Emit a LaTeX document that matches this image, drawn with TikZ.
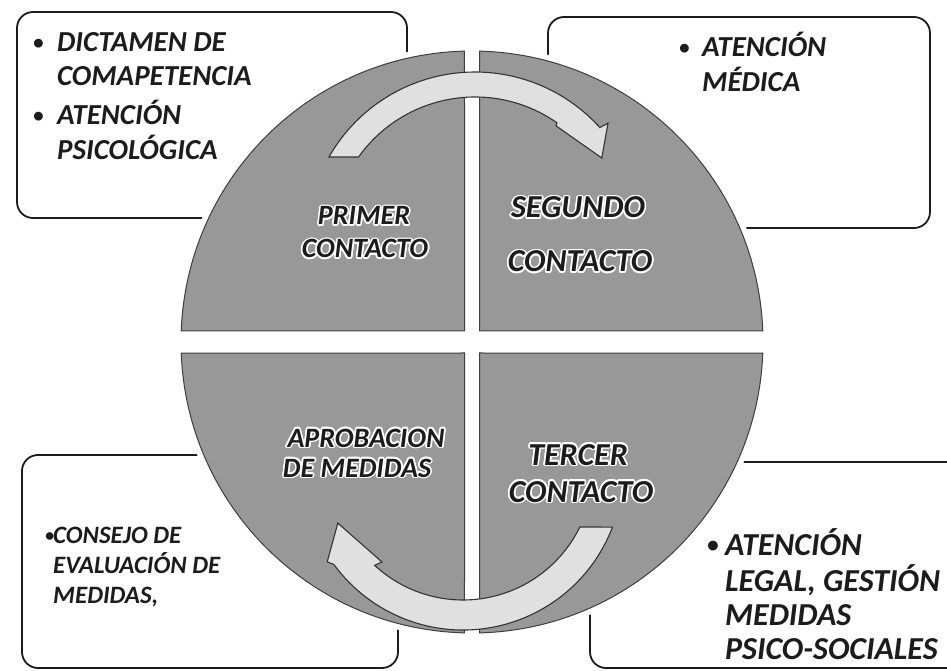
\documentclass[tikz,border=0pt]{standalone}
\usepackage{fontspec}
\usepackage{graphicx}
\setmainfont{Carlito}
\usetikzlibrary{calc}
\definecolor{disc}{RGB}{152,152,152}
\definecolor{arrowfill}{RGB}{224,224,224}
\definecolor{ink}{RGB}{28,28,28}
\tikzset{
  infobox/.style={draw=ink, line width=1.8pt, rounded corners=16pt, fill=white},
  quad/.style={fill=disc, draw=ink!85, line width=1pt},
  arrowshape/.style={fill=arrowfill, draw=ink!90, line width=1.1pt, line join=miter},
  boxtext/.style={anchor=base west, inner sep=0pt, text=ink},
  lbl/.style={anchor=base, inner sep=0pt, text=ink},
}
\newcommand\bul[1]{\makebox[#1][l]{\raisebox{0.08em}{\scalebox{0.72}{\textbullet}}}}
% name, x, y, size, text  (white halo from offset copies)
\newcommand\halolabel[5]{%
  \foreach \a in {0,30,...,330}{%
    \node[lbl, text=white, font=\fontsize{#4}{#4}\selectfont\bfseries\itshape]
      (#1h\a) at ($(#2,#3)+(\a:1.7pt)$) {#5};}
  \node[lbl, font=\fontsize{#4}{#4}\selectfont\bfseries\itshape] (#1) at (#2,#3) {#5};
}
\begin{document}
\begin{tikzpicture}[x=1pt,y=1pt]
\useasboundingbox (0,0) rectangle (947,670);
\clip (0,0) rectangle (947,670);
\fill[white] (0,0) rectangle (947,670);

% info boxes
\draw[infobox] (17,452) rectangle (407,658);
\draw[infobox] (548,442) rectangle (930,653);
\draw[infobox] (22,2) rectangle (398,215);
\draw[infobox] (590,2) rectangle (975,208);

% box texts
\node[boxtext, font=\fontsize{29}{34}\selectfont\bfseries\itshape] (tltext) at (33,618)
 {\begin{tabular}[t]{@{}l@{}}\bul{24pt}DICTAMEN DE\\\hspace*{24pt}COMAPETENCIA\\[4pt]
  \bul{24pt}ATENCIÓN\\\hspace*{24pt}PSICOLÓGICA\end{tabular}};
\node[boxtext, font=\fontsize{29}{33}\selectfont\bfseries\itshape] (trtext) at (679,613)
 {\begin{tabular}[t]{@{}l@{}}\bul{23pt}ATENCIÓN\\\hspace*{23pt}MÉDICA\end{tabular}};
\node[boxtext, font=\fontsize{25}{30}\selectfont\bfseries\itshape] (bltext) at (45,127)
 {\begin{tabular}[t]{@{}l@{}}\bul{8pt}CONSEJO DE\\\hspace*{8pt}EVALUACIÓN DE\\\hspace*{8pt}MEDIDAS,\end{tabular}};
\node[boxtext, font=\fontsize{32}{33.7}\selectfont\bfseries\itshape] (brtext) at (707,115)
 {\begin{tabular}[t]{@{}l@{}}\bul{18pt}ATENCIÓN\\\hspace*{18pt}LEGAL, GESTIÓN\\\hspace*{18pt}MEDIDAS\\\hspace*{18pt}PSICO-SOCIALES\end{tabular}};

% disc
\coordinate (C) at (472,328);
\fill[white] (C) circle[radius=297pt];
\draw[quad] (464.5,339) -- ($(C)+(91.48:291pt)$) arc[start angle=91.48, end angle=177.83, radius=291pt] -- cycle;
\draw[quad] (479.5,339) -- ($(C)+(2.17:291pt)$) arc[start angle=2.17, end angle=88.52, radius=291pt] -- cycle;
\draw[quad] (464.5,317) -- ($(C)+(182.17:291pt)$) arc[start angle=182.17, end angle=268.52, radius=291pt] -- cycle;
\draw[quad] (479.5,317) -- ($(C)+(271.48:291pt)$) arc[start angle=271.48, end angle=357.83, radius=291pt] -- cycle;

% top arrow
\coordinate (T) at (475,430);
\draw[arrowshape] ($(T)+(150.4:168pt)$) arc[start angle=150.4, end angle=42, radius=168pt]
  -- ($(T)+(41.3:177pt)$) -- ($(T)+(32.9:151pt)$) -- ($(T)+(54.7:140pt)$)
  -- ($(T)+(55:143pt)$) arc[start angle=55, end angle=144.5, radius=143pt] -- cycle;

% bottom arrow
\coordinate (B) at (463,200);
\draw[arrowshape] ($(B)+(-20.9:160pt)$) arc[start angle=-20.9, end angle=-143.8, radius=160pt]
  -- ($(B)+(-145.9:164pt)$) -- ($(B)+(-157:136pt)$) -- ($(B)+(-131.4:122.6pt)$)
  -- ($(B)+(-132.8:130pt)$) arc[start angle=-132.8, end angle=-26, radius=130pt] -- cycle;

% quadrant labels
\halolabel{q1a}{364}{445}{28}{PRIMER}
\halolabel{q1b}{365}{412}{28}{CONTACTO}
\halolabel{q2a}{578}{452}{32}{SEGUNDO}
\halolabel{q2b}{580}{398}{32}{CONTACTO}
\halolabel{q4a}{366}{223}{28}{APROBACION}
\halolabel{q4b}{357}{193}{28}{DE MEDIDAS}
\halolabel{q3a}{578}{205}{32}{TERCER}
\halolabel{q3b}{581}{168}{32}{CONTACTO}
\end{tikzpicture}
\end{document}
